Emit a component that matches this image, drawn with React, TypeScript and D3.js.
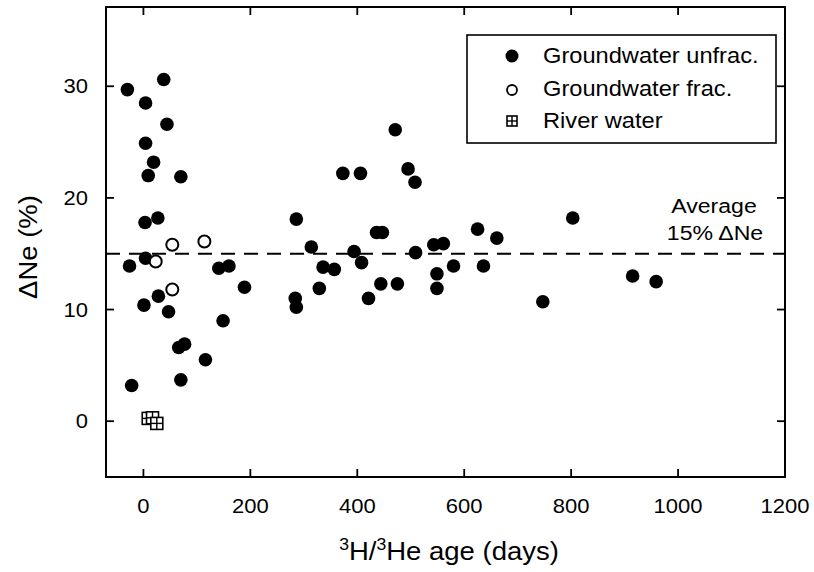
import React from "react";
import * as d3 from "d3";

const unfracAge = [-30, 38, 4, 44, 4, 19, 9, 70, 3, 27, -26, 4, 28, 1, 47, 66, 77, 70, -22, 116, 141, 160, 189, 149, 286, 314, 284, 286, 336, 357, 329, 373, 406, 471, 495, 508, 436, 447, 394, 408, 421, 444, 475, 509, 543, 561, 549, 549, 580, 625, 661, 636, 803, 747, 915, 959];
const unfracNe = [29.7, 30.6, 28.5, 26.6, 24.9, 23.2, 22.0, 21.9, 17.8, 18.2, 13.9, 14.6, 11.2, 10.4, 9.8, 6.6, 6.9, 3.7, 3.2, 5.5, 13.7, 13.9, 12.0, 9.0, 18.1, 15.6, 11.0, 10.2, 13.8, 13.6, 11.9, 22.2, 22.2, 26.1, 22.6, 21.4, 16.9, 16.9, 15.2, 14.2, 11.0, 12.3, 12.3, 15.1, 15.8, 15.9, 13.2, 11.9, 13.9, 17.2, 16.4, 13.9, 18.2, 10.7, 13.0, 12.5];
const fracAge = [23, 54, 114, 54];
const fracNe = [14.3, 15.8, 16.1, 11.8];
const riverAge = [9, 17, 25];
const riverNe = [0.25, 0.3, -0.2];
const xTicks = [0, 200, 400, 600, 800, 1000, 1200];
const yTicks = [0, 10, 20, 30];
const averageNe = 15;
const legendLabels = ["Groundwater unfrac.", "Groundwater frac.", "River water"];

const W = 814;
const H = 572;
const FONT = "'Liberation Sans', Arial, Helvetica, sans-serif";
const SX = 1.1;

function T(props: { x: number; y: number; size: number; anchor?: string; rotate?: number; children: React.ReactNode }) {
  const { x, y, size, anchor = "start", rotate = 0, children } = props;
  return (
    <text
      transform={`translate(${x},${y}) rotate(${rotate}) scale(${SX},1)`}
      textAnchor={anchor}
      fontSize={size}
      fill="#000"
    >
      {children}
    </text>
  );
}

export default function App() {
  const x = d3.scaleLinear().domain([-70, 1200]).range([106, 785]);
  const y = d3.scaleLinear().domain([-5.0, 37.1]).range([477, 7]);
  const [x0, x1] = x.range();
  const [y0, y1] = y.range();
  const tl = 8;

  const sq = (cx: number, cy: number, s: number, key: string) => (
    <g key={key}>
      <rect x={cx - s / 2} y={cy - s / 2} width={s} height={s} fill="#fff" stroke="#000" strokeWidth={1.6} />
      <line x1={cx} x2={cx} y1={cy - s / 2} y2={cy + s / 2} stroke="#000" strokeWidth={1.4} />
      <line x1={cx - s / 2} x2={cx + s / 2} y1={cy} y2={cy} stroke="#000" strokeWidth={1.4} />
    </g>
  );

  return (
    <svg width={W} height={H} style={{ position: "absolute", left: 0, top: 0, background: "#fff" }} fontFamily={FONT}>
      <rect x={0} y={0} width={W} height={H} fill="#fff" />
      <line x1={x0} x2={x1} y1={y(averageNe)} y2={y(averageNe)} stroke="#000" strokeWidth={2} strokeDasharray="14 9" />
      <rect x={x0} y={y1} width={x1 - x0} height={y0 - y1} fill="none" stroke="#000" strokeWidth={2} />
      {xTicks.map((t) => (
        <g key={"xt" + t}>
          <line x1={x(t)} x2={x(t)} y1={y0} y2={y0 - tl} stroke="#000" strokeWidth={1.8} />
          <line x1={x(t)} x2={x(t)} y1={y1} y2={y1 + tl} stroke="#000" strokeWidth={1.8} />
          <T x={x(t)} y={513} size={20} anchor="middle">{t}</T>
        </g>
      ))}
      {yTicks.map((t) => (
        <g key={"yt" + t}>
          <line x1={x0} x2={x0 + tl} y1={y(t)} y2={y(t)} stroke="#000" strokeWidth={1.8} />
          <line x1={x1} x2={x1 - tl} y1={y(t)} y2={y(t)} stroke="#000" strokeWidth={1.8} />
          <T x={88} y={y(t) + 7.2} size={20} anchor="end">{t}</T>
        </g>
      ))}
      <T x={449} y={560} size={25} anchor="middle">
        <tspan fontSize={16} dy={-10}>3</tspan>
        <tspan dy={10}>H/</tspan>
        <tspan fontSize={16} dy={-10}>3</tspan>
        <tspan dy={10}>He age (days)</tspan>
      </T>
      <T x={37} y={247} size={25} anchor="middle" rotate={-90}>ΔNe (%)</T>
      {unfracAge.map((a, i) => (
        <circle key={"u" + i} cx={x(a)} cy={y(unfracNe[i])} r={6.8} fill="#000" />
      ))}
      {fracAge.map((a, i) => (
        <circle key={"f" + i} cx={x(a)} cy={y(fracNe[i])} r={6} fill="#fff" stroke="#000" strokeWidth={2} />
      ))}
      {riverAge.map((a, i) => sq(x(a), y(riverNe[i]), 12, "r" + i))}
      <T x={714} y={213} size={21} anchor="middle">Average</T>
      <T x={715} y={240} size={21} anchor="middle">15% ΔNe</T>
      <rect x={467} y={35} width={309} height={108} fill="#fff" stroke="#000" strokeWidth={1.6} />
      <circle cx={512} cy={56} r={6.5} fill="#000" />
      <circle cx={512} cy={90} r={5} fill="#fff" stroke="#000" strokeWidth={1.8} />
      {sq(512, 121, 10, "lsq")}
      {legendLabels.map((l, i) => (
        <T key={l} x={543} y={63 + i * 32.5} size={21.5}>{l}</T>
      ))}
    </svg>
  );
}
